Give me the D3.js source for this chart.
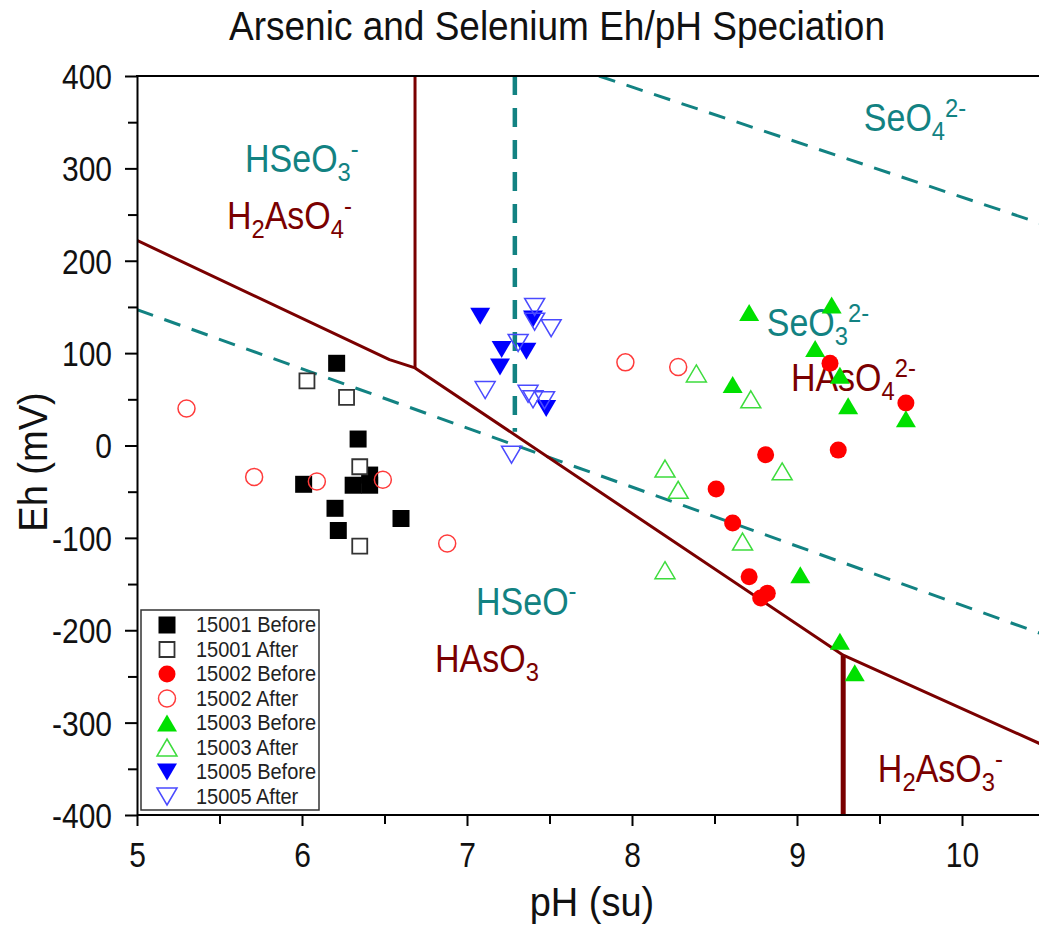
<!DOCTYPE html>
<html>
<head>
<meta charset="utf-8">
<script src="https://cdn.jsdelivr.net/npm/d3@7"></script>
<style>
  html, body { margin: 0; padding: 0; background: #fff; }
  svg { display: block; font-family: "Liberation Sans", Arial, Helvetica, sans-serif; }
</style>
</head>
<body>
<svg id="chart" width="1039" height="927"></svg>
<script>
// ---- field samples: [pH (su), Eh (mV)] ----
const s15001Before = [[6.21, 89], [6.34, 7], [6.01, -42], [6.31, -43], [6.41, -32], [6.41, -43], [6.20, -68], [6.22, -92], [6.60, -79]];
const s15001After  = [[6.03, 70], [6.27, 52], [6.35, -23], [6.35, -109]];
const s15002Before = [[9.20, 89], [9.66, 46], [8.81, -10], [9.25, -5], [8.51, -47], [8.61, -84], [8.71, -142], [8.82, -160], [8.78, -165]];
const s15002After  = [[5.30, 40], [5.71, -34], [6.09, -39], [6.49, -37], [6.88, -106], [7.96, 90], [8.28, 85]];
const s15003Before = [[8.71, 144], [9.21, 152], [9.11, 105], [8.61, 66], [9.26, 76], [9.31, 43], [9.66, 29], [9.02, -140], [9.26, -212], [9.35, -246]];
const s15003After  = [[8.39, 78], [8.72, 50], [8.20, -25], [8.28, -48], [8.91, -28], [8.67, -104], [8.20, -135]];
const s15005Before = [[7.08, 140], [7.40, 137], [7.21, 104], [7.36, 102], [7.20, 85], [7.48, 40]];
const s15005After  = [[7.41, 150], [7.41, 134], [7.51, 127], [7.31, 111], [7.11, 60], [7.37, 56], [7.40, 50], [7.47, 49], [7.27, -10]];

// ---- stability field boundaries: [pH, Eh] ----
const asBoundary = [[5, 222], [6.53, 93], [6.685, 84], [9.28, -227], [10.5, -325]];
const asDivideAcid = [[6.685, 84], [6.685, 400]];
const asDivideBase = [[9.28, -227], [9.28, -400]];
const seLower = [[5, 147], [10.5, -205]];
const seDivide = [[7.29, 15], [7.29, 400]];
const seUpper = [[7.8, 400], [10.5, 239]];

// ---- axis ticks ----
const phTicks = [5, 5.5, 6, 6.5, 7, 7.5, 8, 8.5, 9, 9.5, 10];
const ehTicks = [-400, -350, -300, -250, -200, -150, -100, -50, 0, 50, 100, 150, 200, 250, 300, 350, 400];

// ---- legend entries ----
const seriesNames = ["15001 Before", "15001 After", "15002 Before", "15002 After", "15003 Before", "15003 After", "15005 Before", "15005 After"];
const seriesData = [s15001Before, s15001After, s15002Before, s15002After, s15003Before, s15003After, s15005Before, s15005After];

// species labels: text pieces ("sub" / "sup" for indices and charges), anchored at [pH, Eh]
const speciesLabels = [
  { parts: [["HSeO"], ["3", "sub"], ["-", "sup"]], at: [5.655, 296], kind: "se" },
  { parts: [["H"], ["2", "sub"], ["AsO"], ["4", "sub"], ["-", "sup"]], at: [5.545, 234], kind: "as" },
  { parts: [["SeO"], ["4", "sub"], ["2-", "sup"]], at: [9.405, 340], kind: "se" },
  { parts: [["SeO"], ["3", "sub"], ["2-", "sup"]], at: [8.817, 118], kind: "se" },
  { parts: [["HAsO"], ["4", "sub"], ["2-", "sup"]], at: [8.963, 59], kind: "as" },
  { parts: [["HSeO"], ["-", "sup"]], at: [7.055, -183], kind: "se" },
  { parts: [["HAsO"], ["3", "sub"]], at: [6.806, -245], kind: "as" },
  { parts: [["H"], ["2", "sub"], ["AsO"], ["3", "sub"], ["-", "sup"]], at: [9.49, -364], kind: "as" }
];

const AS_COLOR = "#7a0000";
const SE_COLOR = "#128282";

const svg = d3.select("#chart");
const W = 1039;
const plot = { left: 137, top: 76, bottom: 815 };

const x = d3.scaleLinear().domain([5, 10.5]).range([plot.left, plot.left + 5.5 * 165]);
const y = d3.scaleLinear().domain([-400, 400]).range([plot.bottom, plot.top]);

svg.append("defs").append("clipPath").attr("id", "plotClip")
  .append("rect").attr("x", plot.left).attr("y", plot.top)
  .attr("width", W - plot.left).attr("height", plot.bottom - plot.top);

// text drawn with a slightly tall glyph aspect
function tallText(parent, px, py, size, sy) {
  return parent.append("text")
    .attr("transform", `translate(${px},${py}) scale(1,${sy})`)
    .style("font-size", size + "px");
}

function richText(parent, parts, px, py, size, sy, color) {
  const t = tallText(parent, px, py, size, sy).attr("fill", color);
  let shift = 0;
  parts.forEach(([str, role]) => {
    const target = role === "sub" ? 0.23 * size : role === "sup" ? -0.37 * size : 0;
    t.append("tspan")
      .attr("dy", target - shift)
      .style("font-size", (role ? 0.7 * size : size) + "px")
      .text(str);
    shift = target;
  });
  return t;
}

// ---- title ----
tallText(svg, 557, 40, 37, 1.08).attr("text-anchor", "middle").attr("fill", "#111")
  .text("Arsenic and Selenium Eh/pH Speciation");

// ---- boundaries ----
const lineGen = d3.line().x(d => x(d[0])).y(d => y(d[1]));
const field = svg.append("g").attr("clip-path", "url(#plotClip)");

field.append("path").datum(seLower).attr("d", lineGen)
  .attr("fill", "none").attr("stroke", SE_COLOR).attr("stroke-width", 3)
  .attr("stroke-dasharray", "17,12");
field.append("path").datum(seUpper).attr("d", lineGen)
  .attr("fill", "none").attr("stroke", SE_COLOR).attr("stroke-width", 3)
  .attr("stroke-dasharray", "17,12");
field.append("path").datum(seDivide.slice().reverse()).attr("d", lineGen)
  .attr("fill", "none").attr("stroke", SE_COLOR).attr("stroke-width", 4.5)
  .attr("stroke-dasharray", "19,13");

field.append("path").datum(asBoundary).attr("d", lineGen)
  .attr("fill", "none").attr("stroke", AS_COLOR).attr("stroke-width", 3)
  .attr("stroke-linejoin", "round");
field.append("path").datum(asDivideAcid).attr("d", lineGen)
  .attr("fill", "none").attr("stroke", AS_COLOR).attr("stroke-width", 3);
field.append("path").datum(asDivideBase).attr("d", lineGen)
  .attr("fill", "none").attr("stroke", AS_COLOR).attr("stroke-width", 5);

// ---- species labels ----
const labelLayer = svg.append("g");
speciesLabels.forEach(l => {
  richText(labelLayer, l.parts, x(l.at[0]), y(l.at[1]), 34, 1.12, l.kind === "as" ? AS_COLOR : SE_COLOR);
});

// ---- markers ----
const markerStyles = [
  { shape: "square", fill: "#000", stroke: "#000", sw: 0 },
  { shape: "square", fill: "#fff", stroke: "#333", sw: 1.8, small: true },
  { shape: "circle", fill: "#ff0000", stroke: "#ff0000", sw: 0 },
  { shape: "circle", fill: "none", stroke: "#ff3b3b", sw: 1.5 },
  { shape: "up", fill: "#00e000", stroke: "#00e000", sw: 0 },
  { shape: "up", fill: "none", stroke: "#3ddc3d", sw: 1.5 },
  { shape: "down", fill: "#0000ff", stroke: "#0000ff", sw: 0 },
  { shape: "down", fill: "none", stroke: "#4a4aff", sw: 1.5 }
];

function markerPath(style) {
  const w = 20, h = 17;
  switch (style.shape) {
    case "square": {
      const s = style.small ? 15 : 17;
      return `M${-s / 2},${-s / 2}h${s}v${s}h${-s}Z`;
    }
    case "circle": {
      const r = 8.5;
      return `M${r},0A${r},${r},0,1,1,${-r},0A${r},${r},0,1,1,${r},0Z`;
    }
    case "up":
      return `M0,${-h / 2}L${w / 2},${h / 2}L${-w / 2},${h / 2}Z`;
    case "down":
      return `M0,${h / 2}L${w / 2},${-h / 2}L${-w / 2},${-h / 2}Z`;
  }
}

const points = svg.append("g").attr("clip-path", "url(#plotClip)");
seriesData.forEach((data, i) => {
  const st = markerStyles[i];
  points.append("g").selectAll("path").data(data).join("path")
    .attr("transform", d => `translate(${x(d[0])},${y(d[1])})`)
    .attr("d", markerPath(st))
    .attr("fill", st.fill)
    .attr("stroke", st.sw ? st.stroke : "none")
    .attr("stroke-width", st.sw);
});

// ---- axes ----
const xAxis = svg.append("g").attr("transform", `translate(0,${plot.bottom})`)
  .call(d3.axisBottom(x).tickValues(phTicks).tickSizeOuter(0)
    .tickFormat(d => Number.isInteger(d) ? d : ""));
xAxis.select(".domain").attr("stroke", "#000").attr("stroke-width", 2)
  .attr("d", `M${plot.left},0H${W}`);
xAxis.selectAll(".tick line").attr("stroke", "#000").attr("stroke-width", 2)
  .attr("y2", d => Number.isInteger(d) ? 11 : 9);
xAxis.selectAll(".tick text")
  .attr("y", 0).attr("dy", "0.35em")
  .attr("transform", "translate(0,40) scale(1,1.18)")
  .attr("fill", "#111").style("font-size", "30px").style("font-family", "inherit");

const yAxis = svg.append("g").attr("transform", `translate(${plot.left},0)`)
  .call(d3.axisLeft(y).tickValues(ehTicks).tickSizeOuter(0)
    .tickFormat(d => d % 100 === 0 ? d : ""));
yAxis.select(".domain").attr("stroke", "#000").attr("stroke-width", 2);
yAxis.selectAll(".tick line").attr("stroke", "#000").attr("stroke-width", 2)
  .attr("x2", d => d % 100 === 0 ? -12 : -9);
yAxis.selectAll(".tick text")
  .attr("x", 0).attr("dy", "0.35em")
  .attr("transform", "translate(-25,0) scale(1,1.18)")
  .attr("fill", "#111").style("font-size", "30px").style("font-family", "inherit");

// top frame edge
svg.append("line").attr("x1", plot.left - 1).attr("x2", W).attr("y1", plot.top).attr("y2", plot.top)
  .attr("stroke", "#000").attr("stroke-width", 2);

// axis titles
tallText(svg, 592, 916, 38, 1.08).attr("text-anchor", "middle").attr("fill", "#111").text("pH (su)");
svg.append("text")
  .attr("transform", "translate(47,462) rotate(-90) scale(1,1.08)")
  .attr("text-anchor", "middle").attr("fill", "#111").style("font-size", "38px")
  .text("Eh (mV)");

// ---- legend ----
const legend = svg.append("g");
legend.append("rect").attr("x", 141).attr("y", 610).attr("width", 178).attr("height", 200)
  .attr("fill", "#fff").attr("stroke", "#333").attr("stroke-width", 1.5);
seriesNames.forEach((name, i) => {
  const st = markerStyles[i];
  const ry = 625 + i * 24.5;
  legend.append("path").attr("transform", `translate(167,${ry})`)
    .attr("d", markerPath(st))
    .attr("fill", st.fill)
    .attr("stroke", st.sw ? st.stroke : "none")
    .attr("stroke-width", st.sw);
  tallText(legend, 196, ry + 7, 20, 1.06).attr("fill", "#222").text(name);
});
</script>
</body>
</html>
